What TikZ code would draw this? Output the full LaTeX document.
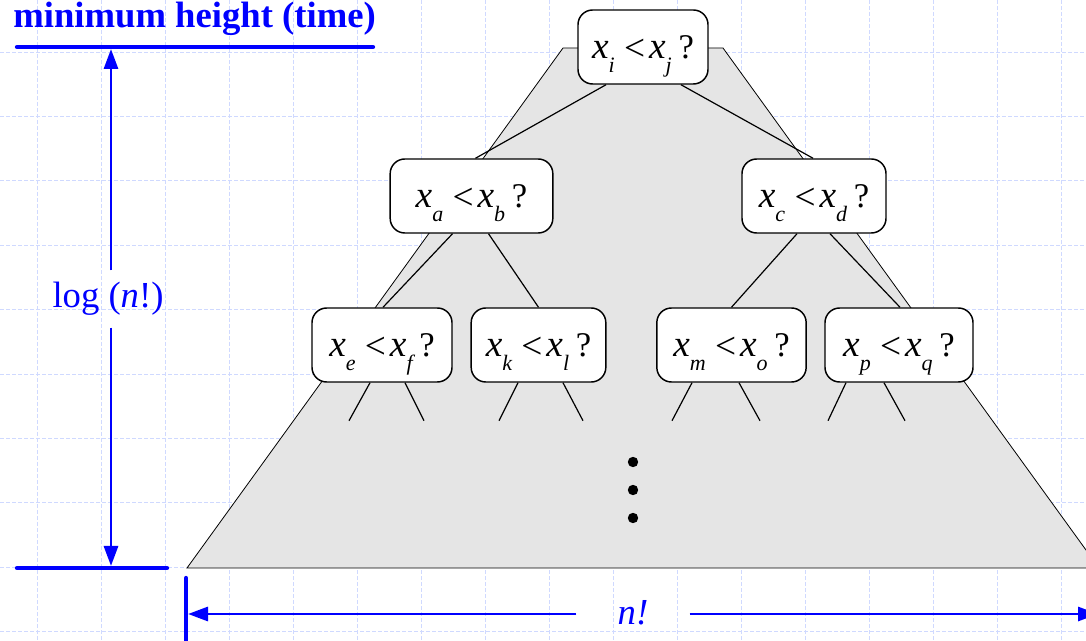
\documentclass[tikz,border=0pt]{standalone}
\usepackage{fontspec}
\setmainfont{Liberation Serif}
\usetikzlibrary{arrows.meta,calc}
\definecolor{GridClr}{rgb}{0.81,0.85,1}
\definecolor{TreeClr}{rgb}{0.898,0.898,0.898}
\definecolor{DimClr}{rgb}{0,0,1}

\newcommand{\vx}[1]{{\fontsize{28}{28}\selectfont\itshape x}\raisebox{-10.5pt}{\fontsize{16.5}{16.5}\selectfont\itshape #1}}
\newcommand{\cmpr}[2]{\vx{#1}\hspace{7pt}\raisebox{-1.5pt}{\fontsize{28}{28}\selectfont<}\hspace{3pt}\vx{#2}\hspace{5pt}{\fontsize{26}{26}\selectfont?}}

\begin{document}
\begin{tikzpicture}[x=0.75pt,y=-0.75pt,
  cmpbox/.style={draw,line width=1.1pt,fill=white,rounded corners=11pt,minimum height=55.5pt,inner sep=0pt,
    text height=28.5pt,text depth=10.5pt,font=\fontsize{23}{23}\selectfont},
  branch/.style={line width=0.9pt},
  gridline/.style={GridClr,line width=0.6pt,dash pattern=on 3pt off 1.5pt},
  bar/.style={DimClr,line width=3.2pt,line cap=round},
  dimarrow/.style={DimClr,line width=2.2pt,-{Triangle[length=15pt,width=10.5pt]}},
  dimlabel/.style={DimClr,font=\fontsize{27.5}{27.5}\selectfont,inner sep=1pt},
  dot/.style={circle,fill=black,inner sep=0pt,minimum size=7.8pt}]

\useasboundingbox (0,0) rectangle (1086,641);
\fill[white] (0,0) rectangle (1086,641);
\foreach \gx in {37,101,...,1061} \draw[gridline] (\gx,0) -- (\gx,641);
\foreach \gy in {52,116.4,...,632} \draw[gridline] (0,\gy) -- (1086,\gy);

\filldraw[fill=TreeClr,draw=black,line width=0.6pt] (563,48) -- (723,48) -- (1099,568) -- (187,568) -- cycle;

\node[cmpbox,minimum width=97.5pt] (root) at (643,47) {\cmpr{i}{j}};
\node[cmpbox,minimum width=122pt] (xa) at (471.5,196) {\cmpr{a}{b}};
\node[cmpbox,minimum width=108pt] (xc) at (814,196) {\cmpr{c}{d}};
\node[cmpbox,minimum width=105pt] (xe) at (382,345) {\cmpr{e}{f}};
\node[cmpbox,minimum width=101pt] (xk) at (538.5,345) {\cmpr{k}{l}};
\node[cmpbox,minimum width=112pt] (xm) at (731.5,345) {\cmpr{m}{o}};
\node[cmpbox,minimum width=111pt] (xp) at (899,345) {\cmpr{p}{q}};

\draw[branch] ($(root.south)+(-37,0)$) -- ($(xa.north)+(4,0)$);
\draw[branch] ($(root.south)+(38,0)$) -- ($(xc.north)+(-1,0)$);
\draw[branch] ($(xa.south)+(-19,0)$) -- ($(xe.north)+(1,0)$);
\draw[branch] ($(xa.south)+(17,0)$) -- (xk.north);
\draw[branch] ($(xc.south)+(-17,0)$) -- (xm.north);
\draw[branch] ($(xc.south)+(16,0)$) -- ($(xp.north)+(1,0)$);

\draw[branch] ($(xe.south)+(-12,0)$) -- ++(-21,38);
\draw[branch] ($(xe.south)+(23,0)$) -- ++(19,38);
\draw[branch] ($(xk.south)+(-20.5,0)$) -- ++(-19,38);
\draw[branch] ($(xk.south)+(24.5,0)$) -- ++(20,38);
\draw[branch] ($(xm.south)+(-39.5,0)$) -- ++(-20,38);
\draw[branch] ($(xm.south)+(7.5,0)$) -- ++(21,38);
\draw[branch] ($(xp.south)+(-53,0)$) -- ++(-18,38);
\draw[branch] ($(xp.south)+(-15,0)$) -- ++(21,38);

\node[dot] (dot1) at (633,462) {};
\node[dot] (dot2) at (633,490) {};
\node[dot] (dot3) at (633,518) {};

\node[anchor=base west,DimClr,font=\bfseries\fontsize{27.5}{27.5}\selectfont,inner sep=0pt] (title) at (13,28) {minimum height (time)};
\coordinate (toptl) at (17,47);
\coordinate (toptr) at (373,47);
\draw[bar] (toptl) -- (toptr);
\coordinate (botl) at (17,568);
\coordinate (botr) at (167,568);
\draw[bar] (botl) -- (botr);
\coordinate (basel) at (186,578);
\coordinate (baseb) at (186,650);
\draw[bar] (basel) -- (baseb);

\coordinate (htop) at (111,49);
\coordinate (hbot) at (111,566);
\node[dimlabel] (loglbl) at (108,299) {log (\textit{n}!)};
\draw[dimarrow,shorten <=21.4pt] (htop |- loglbl) -- (htop);
\draw[dimarrow,shorten <=21.4pt] (htop |- loglbl) -- (hbot);

\coordinate (wl) at (188,614);
\coordinate (wr) at (1098,614);
\node[dimlabel] (nlbl) at (633,613) {\textit{n!}};
\draw[dimarrow,shorten <=42.4pt] (nlbl |- wl) -- (wl);
\draw[dimarrow,shorten <=42.4pt] (nlbl |- wl) -- (wr);

\end{tikzpicture}
\end{document}
